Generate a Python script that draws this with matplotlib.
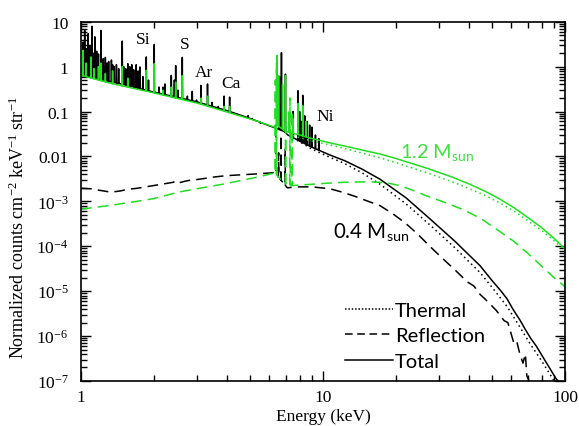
import numpy as np
import matplotlib
matplotlib.use("Agg")
import matplotlib.pyplot as plt
from matplotlib.lines import Line2D
from matplotlib.ticker import FixedLocator, LogLocator, NullFormatter, FixedFormatter

plt.rcParams['font.family'] = ['Liberation Serif', 'DejaVu Serif']
plt.rcParams['mathtext.fontset'] = 'custom'
plt.rcParams['mathtext.rm'] = 'Liberation Serif'
plt.rcParams['mathtext.it'] = 'Liberation Serif:italic'
plt.rcParams['mathtext.sf'] = 'Lato'

# ---------------- data ----------------
# 0.4 Msun total: continuum
cont04_E = [1.0, 1.5, 2.0, 3.0, 4.0, 5.0, 6.0, 6.35, 6.9, 7.15, 8.0, 9.0, 10.7, 12.3, 14.5,
            17.2, 22.0, 27.6, 35.0, 44.5, 50.0, 54.0, 57.5, 61.0, 65.0, 68.0, 72.0, 76.0,
            80.0, 86.0, 92.0, 94.0]
cont04_V = [0.64, 0.40, 0.27, 0.165, 0.105, 0.070, 0.048, 0.043, 0.036, 0.030, 0.022, 0.016,
            0.0107, 0.0080, 0.0052, 0.0031, 1.2e-3, 4.1e-4, 1.3e-4, 3.7e-5, 1.7e-5, 1.05e-5,
            6.8e-6, 3.9e-6, 2.3e-6, 1.5e-6, 9e-7, 6e-7, 3.8e-7, 2.0e-7, 1.1e-7, 1.0e-7]
# 0.4 Msun total: emission lines (energy keV, peak)
line04_E = [1.02, 1.035, 1.05, 1.07, 1.09, 1.11, 1.13, 1.14, 1.16, 1.18, 1.21, 1.235, 1.26,
            1.28, 1.30, 1.335, 1.35, 1.37, 1.40, 1.43, 1.48, 1.50, 1.53, 1.56, 1.59, 1.62,
            1.65, 1.69, 1.72, 1.75, 1.80, 1.86, 1.90, 2.006, 2.10, 2.18, 2.22, 2.36, 2.43,
            2.46, 2.51, 2.62, 2.75, 2.88, 3.00, 3.13, 3.33, 3.48, 3.69, 3.90, 4.11, 4.40,
            4.90, 5.10, 5.50, 6.60, 6.73, 6.99, 7.52, 7.88, 8.00, 8.10, 8.24, 8.40, 8.60,
            8.80, 9.00, 9.30, 9.60]
line04_P = [3.5, 6.4, 2.5, 5.4, 3.0, 7.9, 2.0, 4.6, 2.2, 1.9, 6.4, 1.5, 1.6,
            1.2, 1.3, 1.4, 1.1, 1.0, 1.1, 0.9, 3.7, 1.0, 0.9, 1.16, 1.0, 1.1,
            0.85, 1.1, 0.8, 0.98, 0.6, 1.64, 0.5, 3.1, 0.35, 0.35, 0.41, 0.64, 0.5,
            1.05, 0.3, 1.6, 0.22, 0.28, 0.18, 0.38, 0.41, 0.16, 0.13, 0.22, 0.21, 0.09,
            0.081, 0.07, 0.055, 0.6, 2.05, 0.68, 0.10, 0.29, 0.10, 0.06, 0.23, 0.08, 0.06,
            0.05, 0.045, 0.03, 0.025]
# 0.4 Msun thermal
th04_E = [7.5, 9.0, 10.7, 12.3, 14.5, 17.2, 22.0, 27.6, 35.0, 44.5, 50.0, 57.5, 65.0, 72.0,
          80.0, 86.0, 90.0]
th04_V = [0.026, 0.0145, 0.0095, 0.0069, 0.0043, 0.0024, 8.8e-4, 3.0e-4, 9.3e-5, 2.6e-5,
          1.2e-5, 4.6e-6, 1.6e-6, 6.5e-7, 2.8e-7, 1.5e-7, 1.0e-7]
# 0.4 Msun reflection
rf04_E = [1.0, 1.1, 1.2, 1.33, 1.45, 1.56, 1.7, 1.85, 2.0, 2.2, 2.4, 2.47, 2.55, 2.65, 2.77,
          3.0, 3.2, 3.5, 3.93, 4.4, 5.0, 5.6, 6.1, 6.3, 7.12, 7.5, 8.0, 9.0, 10.7, 12.0,
          13.5, 15.0, 17.2, 19.5, 22.0, 24.5, 27.6, 31.0, 35.0, 39.5, 42.0, 44.5, 48.0, 52.0,
          56.0, 58.0, 61.3, 63.0, 65.0, 67.0, 68.5, 69.5, 71.0]
rf04_V = [1.95e-3, 1.9e-3, 1.75e-3, 1.6e-3, 1.7e-3, 1.85e-3, 1.95e-3, 2.1e-3, 2.25e-3,
          2.45e-3, 2.65e-3, 2.9e-3, 2.6e-3, 2.75e-3, 2.9e-3, 3.05e-3, 3.2e-3, 3.45e-3,
          3.7e-3, 3.85e-3, 4.0e-3, 4.15e-3, 4.3e-3, 4.4e-3, 2.0e-3, 2.05e-3, 2.1e-3, 2.1e-3,
          1.9e-3, 1.6e-3, 1.3e-3, 1.05e-3, 8.0e-4, 5.2e-4, 3.2e-4, 1.9e-4, 1.0e-4, 5.5e-5,
          3.0e-5, 1.6e-5, 1.3e-5, 8.5e-6, 5.8e-6, 3.7e-6, 2.2e-6, 2.0e-6, 7.2e-7, 8.0e-7,
          4.0e-7, 2.5e-7, 4.0e-7, 1.3e-7, 1.0e-7]
rfl04_E = [6.40, 6.55, 6.70, 6.97]
rfl04_P = [0.035, 0.012, 0.030, 0.015]

# 1.2 Msun total
cont12_E = [1.0, 1.335, 2.0, 3.0, 4.0, 5.25, 6.0, 6.3, 6.38, 7.0, 8.0, 9.0, 10.7, 12.3,
            15.0, 17.2, 20.0, 27.6, 34.0, 40.4, 47.0, 53.8, 62.0, 71.7, 80.0, 90.0, 100.0]
cont12_V = [0.64, 0.42, 0.26, 0.155, 0.098, 0.063, 0.049, 0.045, 0.052, 0.036, 0.030, 0.025,
            0.020, 0.017, 0.0133, 0.0113, 0.0090, 5.2e-3, 3.5e-3, 2.4e-3, 1.65e-3, 1.12e-3,
            7.0e-4, 4.0e-4, 2.6e-4, 1.5e-4, 8.7e-5]
line12_E = [1.02, 1.05, 1.10, 1.13, 1.18, 1.21, 1.26, 1.35, 1.48, 1.56, 1.86, 2.006, 2.18,
            2.36, 2.46, 2.62, 3.13, 3.33, 3.90, 4.11, 6.45, 6.55, 6.80, 6.99, 7.25, 7.50,
            7.88, 8.24, 8.50]
line12_P = [2.3, 1.2, 1.64, 0.9, 1.0, 1.2, 0.7, 0.8, 1.0, 0.55, 0.83, 1.16, 0.3,
            0.35, 0.45, 0.63, 0.2, 0.22, 0.13, 0.13, 1.76, 0.63, 0.4, 0.63, 0.10, 0.07,
            0.15, 0.135, 0.06]
th12_E = [7.5, 9.0, 10.7, 12.3, 15.0, 17.2, 20.0, 27.6, 34.0, 40.4, 47.0, 53.8, 62.0, 71.7,
          80.0, 90.0, 100.0]
th12_V = [0.029, 0.022, 0.018, 0.0150, 0.0113, 0.0093, 0.0073, 4.1e-3, 2.75e-3, 1.9e-3,
          1.33e-3, 9.2e-4, 5.9e-4, 3.4e-4, 2.25e-4, 1.33e-4, 7.9e-5]
rf12_E = [1.0, 1.3, 1.7, 2.0, 2.52, 3.0, 3.5, 4.0, 4.7, 5.4, 6.1, 6.3, 7.12, 8.0, 9.0, 11.2,
          13.5, 16.0, 18.3, 21.0, 23.5, 27.0, 31.0, 38.0, 45.0, 52.0, 61.3, 70.0, 80.0, 90.0,
          100.0]
rf12_V = [6.7e-4, 8.0e-4, 1.0e-3, 1.15e-3, 1.6e-3, 1.9e-3, 2.2e-3, 2.5e-3, 3.0e-3, 3.5e-3,
          4.1e-3, 4.3e-3, 2.2e-3, 2.3e-3, 2.4e-3, 2.6e-3, 2.7e-3, 2.7e-3, 2.6e-3, 2.2e-3,
          1.75e-3, 1.3e-3, 1.0e-3, 6.5e-4, 4.1e-4, 2.4e-4, 1.3e-4, 7.0e-5, 3.6e-5, 2.0e-5,
          1.25e-5]
rfl12_E = [6.35, 6.42, 7.00, 7.30, 7.45]
rfl12_P = [0.5, 1.2, 0.1, 0.2, 0.1]

y_ticks = [1e-7, 1e-6, 1e-5, 1e-4, 1e-3, 1e-2, 1e-1, 1, 10]
y_ticklabels = [r'$10^{-7}$', r'$10^{-6}$', r'$10^{-5}$', r'$10^{-4}$', r'$10^{-3}$',
                '0.01', '0.1', '1', '10']
x_ticks = [1, 10, 100]
x_ticklabels = ['1', '10', '100']

GREEN = '#22dd22'


def spectrum(cE, cV, lE=(), lP=(), w=0.0025):
    cE = np.asarray(cE, float)
    cV = np.asarray(cV, float)
    lE = np.asarray(lE, float)
    keep = np.ones(len(cE), bool)
    for e in lE:
        keep &= ~((cE > e * (1 - w)) & (cE < e * (1 + w)))
    E = list(cE[keep])
    V = list(cV[keep])
    lc, lv = np.log10(cE), np.log10(cV)
    for e, p in zip(lE, lP):
        for ee in (e * (1 - w), e * (1 + w)):
            E.append(ee)
            V.append(10 ** np.interp(np.log10(ee), lc, lv))
        E.append(e)
        V.append(p)
    E = np.array(E)
    V = np.array(V)
    o = np.argsort(E)
    return E[o], V[o]


fig = plt.figure(figsize=(5.79, 4.27), dpi=100)
ax = fig.add_axes([0.140, 0.1054, 0.836, 0.8415])
ax.set_xscale('log')
ax.set_yscale('log')

lw = 1.1
dash = (0, (7, 4))
dot = (0, (1, 2.2))

# 0.4 Msun (black)
E, V = spectrum(rf04_E, rf04_V, rfl04_E, rfl04_P)
ax.plot(E, V, color='black', lw=lw, ls=dash)
ax.plot(th04_E, th04_V, color='black', lw=lw, ls=dot)
E, V = spectrum(cont04_E, cont04_V, line04_E, line04_P)
ax.plot(E, V, color='black', lw=lw)

# 1.2 Msun (green)
E, V = spectrum(rf12_E, rf12_V, rfl12_E, rfl12_P)
ax.plot(E, V, color=GREEN, lw=lw, ls=dash)
ax.plot(th12_E, th12_V, color=GREEN, lw=lw, ls=dot)
E, V = spectrum(cont12_E, cont12_V, line12_E, line12_P)
ax.plot(E, V, color=GREEN, lw=lw)

ax.set_xlim(1, 100)
ax.set_ylim(1e-7, 10)

ax.yaxis.set_major_locator(FixedLocator(y_ticks))
ax.yaxis.set_major_formatter(FixedFormatter(y_ticklabels))
ax.yaxis.set_minor_locator(LogLocator(base=10, subs=np.arange(2, 10), numticks=20))
ax.yaxis.set_minor_formatter(NullFormatter())
ax.xaxis.set_major_locator(FixedLocator(x_ticks))
ax.xaxis.set_major_formatter(FixedFormatter(x_ticklabels))
ax.xaxis.set_minor_locator(LogLocator(base=10, subs=np.arange(2, 10), numticks=20))
ax.xaxis.set_minor_formatter(NullFormatter())

ax.tick_params(which='both', direction='in', top=True, right=True, width=1.0)
ax.tick_params(which='major', length=7, labelsize=12.5)
ax.tick_params(axis='y', which='major', pad=9)
ax.tick_params(axis='x', which='major', pad=6)
ax.tick_params(which='minor', length=4)
for s in ax.spines.values():
    s.set_linewidth(1.2)

ax.set_ylabel(r'Normalized counts cm$^{-2}$ keV$^{-1}$ str$^{-1}$', fontsize=13)
ax.yaxis.set_label_coords(-0.11, 0.43)
ax.set_xlabel('Energy (keV)', fontsize=12.5)
ax.xaxis.set_label_coords(0.5, -0.075)

for txt, x, y in [('Si', 1.80, 4.1), ('S', 2.69, 3.2), ('Ar', 3.22, 0.76),
                  ('Ca', 4.17, 0.43), ('Ni', 10.2, 0.079)]:
    ax.text(x, y, txt, fontsize=12.5, ha='center', va='center')

ax.text(20.8, 0.013, r'1.2 M$_{\mathsf{sun}}$', fontsize=14.3, family='Lato', color='#44dd44',
        ha='left', va='center')
ax.text(11.0, 2.2e-4, r'0.4 M$_{\mathsf{sun}}$', fontsize=14.8, family='Lato', color='black',
        ha='left', va='center')

handles = [Line2D([], [], color='black', lw=lw, ls=(0, (1, 1.2))),
           Line2D([], [], color='black', lw=lw, ls=(0, (5, 3))),
           Line2D([], [], color='black', lw=lw)]
leg = ax.legend(handles, ['Thermal', 'Reflection', 'Total'], loc='lower left',
                bbox_to_anchor=(0.545, 0.03), frameon=False, borderpad=0,
                borderaxespad=0, handlelength=2.4, handletextpad=0.1,
                labelspacing=0.43, prop={'family': 'Lato', 'size': 14.5})

fig.savefig('out.png', dpi=100)
